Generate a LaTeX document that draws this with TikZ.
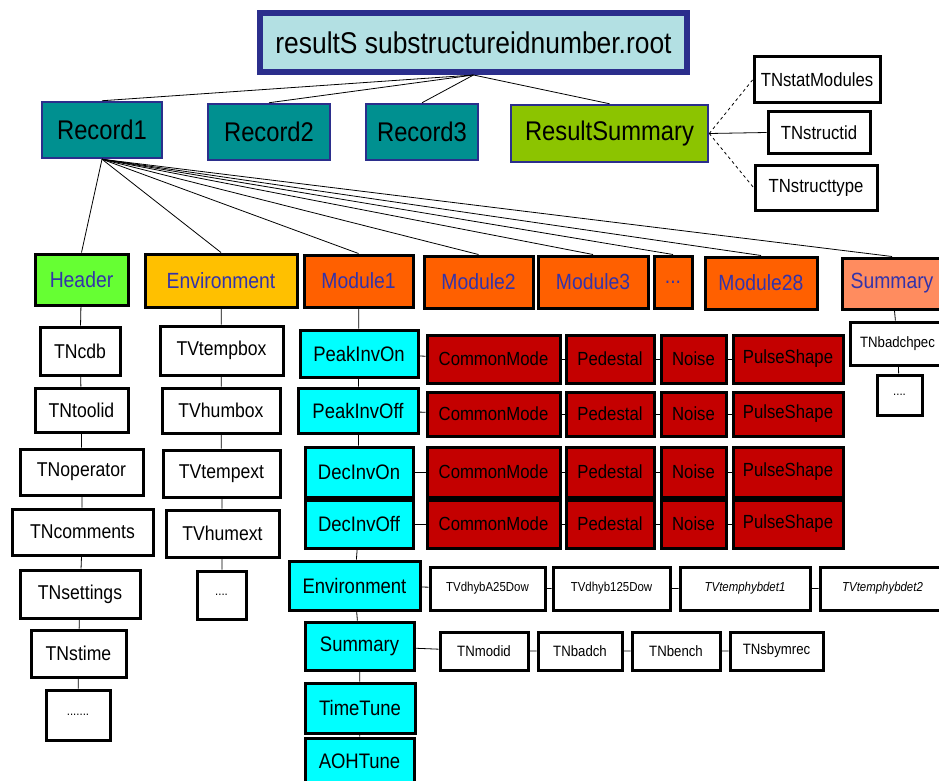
\documentclass[tikz,border=0pt]{standalone}
\usepackage{fontspec}
\setmainfont{Liberation Sans}[FakeStretch=0.88]
\definecolor{titleblue}{HTML}{2B2E8C}
\definecolor{titlefill}{HTML}{B3E0E3}
\definecolor{recteal}{HTML}{009090}
\definecolor{resgreen}{HTML}{8CC400}
\definecolor{hdrgreen}{HTML}{66FF33}
\definecolor{envyellow}{HTML}{FFC000}
\definecolor{modorange}{HTML}{FF6000}
\definecolor{sumsalmon}{HTML}{FF8C5F}
\definecolor{boxcyan}{HTML}{00FFFF}
\definecolor{boxred}{HTML}{C40000}
\definecolor{txtblue}{HTML}{3333AA}
\tikzset{
  fs/.style={font=\fontsize{#1}{#1}\selectfont},
  base/.style={rectangle, inner sep=0pt, align=center},
  titlebox/.style={base, draw=titleblue, line width=6pt, fill=titlefill, fs=30},
  recbox/.style={base, draw=titleblue, line width=2.5pt, fill=recteal, fs=27},
  resbox/.style={base, draw=titleblue, line width=2.5pt, fill=resgreen, fs=27},
  lvlbox/.style={base, draw=black, line width=3pt, text=txtblue, fs=22},
  wbox/.style={base, draw=black, line width=3pt, fill=white, fs=20},
  cbox/.style={base, draw=black, line width=3pt, fill=boxcyan, fs=21},
  rbox/.style={base, draw=black, line width=3pt, fill=boxred, fs=19},
  sbox/.style={base, draw=black, line width=3pt, fill=white, fs=13},
  conn/.style={draw=black, line width=0.8pt},
  dconn/.style={draw=black, line width=0.8pt, dashed},
}
\newcommand{\bx}[6]{\node[#1, minimum width=#4pt, minimum height=#5pt] (#2) at (#3) {#6};}
\begin{document}
\begin{tikzpicture}[x=1pt,y=-1pt]
\useasboundingbox (0,0) rectangle (939,781);
% title
\bx{titlebox}{title}{473.5,42.5}{427}{59}{resultS substructureidnumber.root}
% records
\bx{recbox}{rec1}{102,130}{120}{56}{Record1}
\bx{recbox}{rec2}{269,132}{122}{56}{Record2}
\bx{recbox}{rec3}{422,132}{112}{56}{Record3}
\bx{resbox}{ressum}{609.5,133.5}{197}{57}{ResultSummary}
\bx{wbox,fs=19}{tnstat}{817,80}{126}{46}{TNstatModules}
\bx{wbox,fs=19}{tnsid}{819,132.5}{102}{41}{TNstructid}
\bx{wbox,fs=19}{tnstype}{816,187.5}{122}{45}{TNstructtype}
% level 2
\bx{lvlbox,fill=hdrgreen}{header}{81.5,279.5}{93}{51}{Header}
\bx{lvlbox,fill=envyellow}{env}{221,280.5}{152}{53}{Environment}
\bx{lvlbox,fill=modorange}{mod1}{358.5,281}{109}{52}{Module1}
\bx{lvlbox,fill=modorange}{mod2}{478.5,282}{109}{52}{Module2}
\bx{lvlbox,fill=modorange}{mod3}{593,282}{110}{52}{Module3}
\bx{lvlbox,fill=modorange}{moddots}{673,282}{38}{52}{...}
\bx{lvlbox,fill=modorange}{mod28}{761,283}{112}{52}{Module28}
\bx{lvlbox,fill=sumsalmon}{summ}{892,283.5}{100}{51}{Summary}
% header column
\bx{wbox}{tncdb}{80,351}{80}{48}{TNcdb}
\bx{wbox}{tntool}{81.5,410}{93}{44}{TNtoolid}
\bx{wbox}{tnop}{81.5,472}{123}{46}{TNoperator}
\bx{wbox}{tncom}{82.5,532}{141}{46}{TNcomments}
\bx{wbox}{tnset}{80,594}{120}{48}{TNsettings}
\bx{wbox}{tnstime}{78.5,653.5}{95}{47}{TNstime}
\bx{wbox,fs=13}{hdots}{78,715}{64}{50}{.......}
% environment column
\bx{wbox}{tvtb}{221.5,350.5}{123}{49}{TVtempbox}
\bx{wbox}{tvhb}{221,410.5}{118}{45}{TVhumbox}
\bx{wbox}{tvte}{221.5,473.5}{117}{47}{TVtempext}
\bx{wbox}{tvhe}{222.5,533.5}{113}{47}{TVhumext}
\bx{wbox,fs=13}{edots}{221.5,595}{49}{48}{....}
% module column
\bx{cbox}{pion}{359,353.5}{118}{47}{PeakInvOn}
\bx{cbox}{pioff}{358,410.5}{120}{45}{PeakInvOff}
\bx{cbox}{dion}{359,472}{108}{50}{DecInvOn}
\bx{cbox}{dioff}{359,524}{108}{48}{DecInvOff}
\bx{cbox}{menv}{354.5,585.5}{131}{49}{Environment}
\bx{cbox}{msum}{359.5,646}{109}{48}{Summary}
\bx{cbox}{ttune}{360,708}{110}{50}{TimeTune}
\bx{cbox}{aoh}{359.5,761.5}{109}{47}{AOHTune}
% red grid
\foreach \r/\y/\h/\src in {a/359/48/pion, b/414/44/pioff, c/472/50/dion, d/524/48/dioff}{
  \bx{rbox}{cm\r}{493.5,\y}{133}{\h}{CommonMode}
  \bx{rbox}{pd\r}{610,\y}{88}{\h}{Pedestal}
  \bx{rbox}{no\r}{693.5,\y}{65}{\h}{Noise}
  \bx{rbox}{ps\r}{788,\y}{110}{\h}{PulseShape}
  \draw[conn] (\src) -- (cm\r);
  \draw[conn] (cm\r) -- (pd\r);
  \draw[conn] (pd\r) -- (no\r);
  \draw[conn] (no\r) -- (ps\r);
}
% environment row
\bx{sbox}{ev1}{487.5,588.5}{115}{43}{TVdhybA25Dow}
\bx{sbox}{ev2}{611.5,588.5}{117}{43}{TVdhyb125Dow}
\bx{sbox}{ev3}{745,588.5}{130}{43}{\itshape TVtemphybdet1}
\bx{sbox}{ev4}{882.5,588.5}{125}{43}{\itshape TVtemphybdet2}
% summary row
\bx{sbox,fs=15}{sm1}{484,651}{88}{38}{TNmodid}
\bx{sbox,fs=15}{sm2}{580,651}{84}{38}{TNbadch}
\bx{sbox,fs=15}{sm3}{676,651}{88}{38}{TNbench}
\bx{sbox,fs=15}{sm4}{776.5,651}{93}{38}{TNsbymrec}
% right summary column
\bx{wbox,fs=15}{tnbad}{897.5,343.5}{95}{43}{TNbadchpec}
\bx{wbox,fs=13}{sdots}{899.5,395}{45}{40}{....}
% connectors from title
\foreach \t in {rec1,rec2,rec3,ressum}{\draw[conn] (title.south) -- (\t.north);}
% result summary children
\draw[dconn] (ressum.east) -- (tnstat.west);
\draw[conn] (ressum.east) -- (tnsid.west);
\draw[dconn] (ressum.east) -- (tnstype.west);
% record1 fan
\foreach \t in {header,env,mod1,mod2,mod3,moddots,mod28,summ}{\draw[conn] (rec1.south) -- (\t.north);}
% vertical chains
\draw[conn] (header) -- (tncdb) -- (tntool) -- (tnop) -- (tncom) -- (tnset) -- (tnstime) -- (hdots);
\draw[conn] (env) -- (tvtb) -- (tvhb) -- (tvte) -- (tvhe) -- (edots);
\draw[conn] (mod1) -- (pion) -- (pioff) -- (dion) -- (dioff) -- (menv) -- (msum) -- (ttune) -- (aoh);
\draw[conn] (summ) -- (tnbad) -- (sdots);
% horizontal chains
\draw[conn] (menv) -- (ev1) -- (ev2) -- (ev3) -- (ev4);
\draw[conn] (msum) -- (sm1) -- (sm2) -- (sm3) -- (sm4);
\end{tikzpicture}
\end{document}
